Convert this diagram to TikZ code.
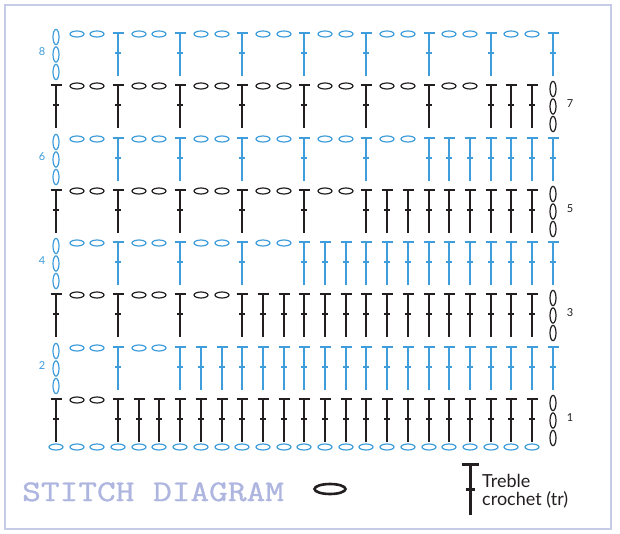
\documentclass[tikz,border=0pt]{standalone}
\usepackage{fontspec}
\setmainfont{Lato}
\newfontfamily\typew{Latin Modern Mono}[FakeBold=1]
\definecolor{blu}{HTML}{3F9DDB}
\definecolor{blk}{HTML}{231F20}
\definecolor{titlec}{HTML}{AEB6E0}
\definecolor{framec}{HTML}{C6CBE8}
\tikzset{
  trstitch/.pic={
    \draw (-5.5,0) -- (5.5,0);
    \draw (0,0) -- (0,43);
    \draw (-3,20) -- (3,20);
  },
  chstitch/.style={line width=1.2pt},
  rowlabel/.style={font=\fontsize{11}{12}\selectfont, inner sep=0pt},
}
\begin{document}
\begin{tikzpicture}[x=1pt,y=-1pt]
\useasboundingbox (0,0) rectangle (620,534);
\fill[white] (0,0) rectangle (620,534);
\draw[framec, line width=2pt] (5,5) rectangle (611,529);
% foundation chain
\foreach \c in {0,...,23}
  \draw[blu, chstitch] ({round(56+20.7*\c)},447) ellipse [x radius=7, y radius=3];
% rows
\foreach \r in {1,...,8} {
  \pgfmathsetmacro\yt{round(399-52.286*(\r-1))}
  \ifodd\r
    \def\cs{0}\def\ce{23}\def\tc{24}\def\lx{570}\colorlet{rowc}{blk}\def\lw{1.7pt}
  \else
    \def\cs{1}\def\ce{24}\def\tc{0}\def\lx{42}\colorlet{rowc}{blu}\def\lw{1.4pt}
  \fi
  \foreach \c in {\cs,...,\ce} {
    \pgfmathtruncatemacro\ischain{((mod(\c,3)!=0) && (\c<3*\r)) ? 1 : 0}
    \pgfmathsetmacro\xc{round(56+20.7*\c)}
    \ifnum\ischain=1
      \draw[rowc, chstitch] (\xc,\yt+1) ellipse [x radius=7, y radius=3];
    \else
      \pic[rowc, line width=\lw] at (\xc,\yt) {trstitch};
    \fi
  }
  % turning chain
  \pgfmathsetmacro\xt{round(56+20.7*\tc)}
  \foreach \k in {0,1,2}
    \draw[rowc, chstitch] (\xt,\yt+4+17.5*\k) ellipse [x radius=3, y radius=7.6];
  \node[rowlabel, text=rowc] (lab\r) at (\lx,\yt+19) {\r};
}
% legend
\draw[blk, line width=2.6pt] (330,489) ellipse [x radius=15.5, y radius=5];
\draw[blk, line width=3pt] (461.5,464) -- (478.5,464);
\draw[blk, line width=3pt] (470,464) -- (470,515);
\draw[blk, line width=3pt] (465.5,489) -- (474.5,489);
\node[anchor=base west, inner sep=0pt, text=blk, font=\fontsize{18}{18}\selectfont] (tre) at (482,487) {Treble};
\node[anchor=base west, inner sep=0pt, text=blk, font=\fontsize{18}{18}\selectfont] (cro) at (482,505) {crochet (tr)};
\node[anchor=base west, inner sep=0pt, text=titlec, xscale=1.21, font=\typew\fontsize{30}{30}\selectfont] (title) at (22,501) {STITCH DIAGRAM};
\end{tikzpicture}
\end{document}
